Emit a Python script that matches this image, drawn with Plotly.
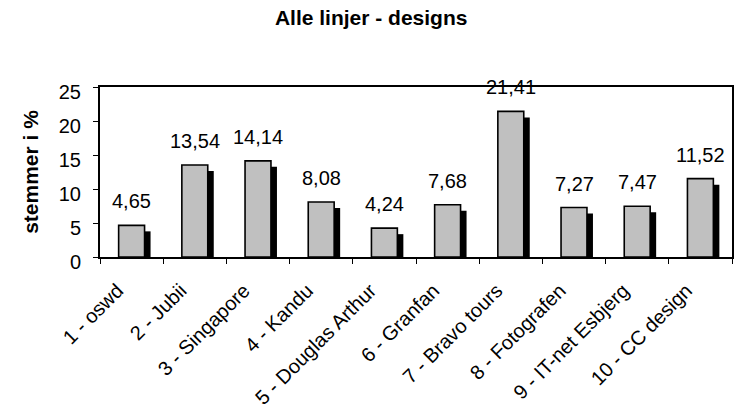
import plotly.graph_objects as go

categories = ["1 - oswd", "2 - Jubii", "3 - Singapore", "4 - Kandu", "5 - Douglas Arthur",
              "6 - Granfan", "7 - Bravo tours", "8 - Fotografen", "9 - IT-net Esbjerg", "10 - CC design"]
votes_pct = [4.65, 13.54, 14.14, 8.08, 4.24, 7.68, 21.41, 7.27, 7.47, 11.52]
value_labels = ["4,65", "13,54", "14,14", "8,08", "4,24", "7,68", "21,41", "7,27", "7,47", "11,52"]
y_ticks = [0, 5, 10, 15, 20, 25]

FONT = "Liberation Sans, Arial, sans-serif"
BAR_W = 0.41          # bar width as a fraction of a category slot
DEPTH_X = 0.095       # sideways offset of the dark side face (category units)
DEPTH_Y = 0.88        # drop of the dark side face (value units)

fig = go.Figure()

# dark side face drawn first, slightly right and lower
fig.add_trace(go.Bar(
    x=categories, y=[v - DEPTH_Y for v in votes_pct],
    width=BAR_W, offset=-BAR_W / 2 + DEPTH_X,
    marker=dict(color="black", line=dict(width=0)),
    hoverinfo="skip", showlegend=False,
))

# front face
fig.add_trace(go.Bar(
    x=categories, y=votes_pct,
    width=BAR_W, offset=-BAR_W / 2,
    marker=dict(color="#C0C0C0", line=dict(color="black", width=1.6)),
    showlegend=False,
))

for cat, v, lab in zip(categories, votes_pct, value_labels):
    fig.add_annotation(x=cat, y=v, text=lab, showarrow=False,
                       yanchor="middle", yshift=24,
                       font=dict(family=FONT, size=20, color="black"))

fig.update_layout(
    width=735, height=417,
    margin=dict(l=100, r=1, t=87, b=160),
    paper_bgcolor="white", plot_bgcolor="white",
    barmode="overlay",
    font=dict(family=FONT, size=20, color="black"),
    title=dict(text="<b>Alle linjer - designs</b>", x=0.505, xanchor="center",
               y=1 - 18 / 417, yanchor="middle", yref="container",
               font=dict(family=FONT, size=21, color="black")),
    xaxis=dict(
        range=[-0.5, 9.5], showline=True, linecolor="black", linewidth=2, mirror=True,
        ticks="outside", tickson="boundaries", ticklen=5, tickcolor="black",
        tickangle=-45, showgrid=False, zeroline=False,
        ticklabelshift=-14, ticklabelstandoff=12,
        tickfont=dict(family=FONT, size=20, color="black"),
    ),
    yaxis=dict(
        range=[0, 25], tickvals=y_ticks, showline=True, linecolor="black", linewidth=2,
        mirror=True, ticks="outside", ticklen=5, tickcolor="black", showgrid=False,
        zeroline=False, ticklabelstandoff=8, ticklabelshift=5,
        tickfont=dict(family=FONT, size=20, color="black"),
        title=dict(text="<b>stemmer i %</b>", standoff=14,
                   font=dict(family=FONT, size=21, color="black")),
    ),
)

fig.write_html("out.html")
